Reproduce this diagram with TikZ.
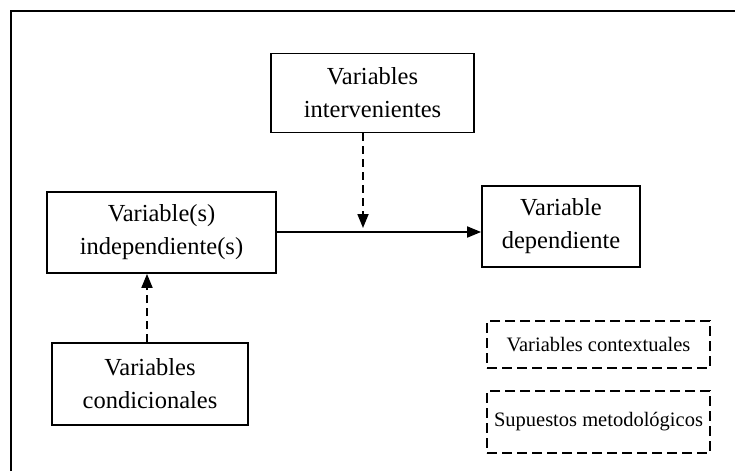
\documentclass[tikz,border=0pt]{standalone}
\usepackage{fontspec}
\setmainfont{Liberation Serif}
\usetikzlibrary{arrows.meta}
\begin{document}
\begin{tikzpicture}[x=1pt,y=-1pt,
  box/.style={draw, line width=1.8pt, align=center, inner sep=0pt,
    font=\fontsize{24.5}{33}\selectfont},
  dbox/.style={box, dash pattern=on 10pt off 5pt,
    font=\fontsize{20.5}{25}\selectfont},
  link/.style={line width=1.8pt, -{Triangle[length=14pt,width=11pt]}},
  dlink/.style={link, dash pattern=on 8pt off 5pt}]
  \useasboundingbox (0,0) rectangle (735,471);
  % open frame: left and top edges only
  \draw[line width=2.4pt] (11,471) -- (11,11) -- (735,11);

  \node[box, minimum width=203pt, minimum height=79pt] (inter) at (372.5,93)
    {Variables\\intervenientes};
  \node[box, minimum width=229pt, minimum height=81pt] (indep) at (161.5,232.5)
    {Variable(s)\\independiente(s)};
  \node[box, minimum width=158pt, minimum height=81pt] (dep) at (561,226.5)
    {Variable\\dependiente};
  \node[box, minimum width=196pt, minimum height=82pt] (cond) at (150,384)
    {Variables\\condicionales};
  \node[dbox, minimum width=223pt, minimum height=47pt] (ctx) at (598.5,344.5)
    {Variables contextuales};
  \node[dbox, minimum width=223pt, minimum height=62pt] (met) at (598.5,422)
    {Supuestos metodológicos};

  \coordinate (junc) at (363,232);
  \coordinate (up) at (147,300);

  \draw[link] (indep.east |- junc) -- (dep.west |- junc);
  \draw[dlink, shorten >=4pt] (inter.south -| junc) -- (junc);
  \draw[dlink] (cond.north -| up) -- (indep.south -| up);
\end{tikzpicture}
\end{document}
